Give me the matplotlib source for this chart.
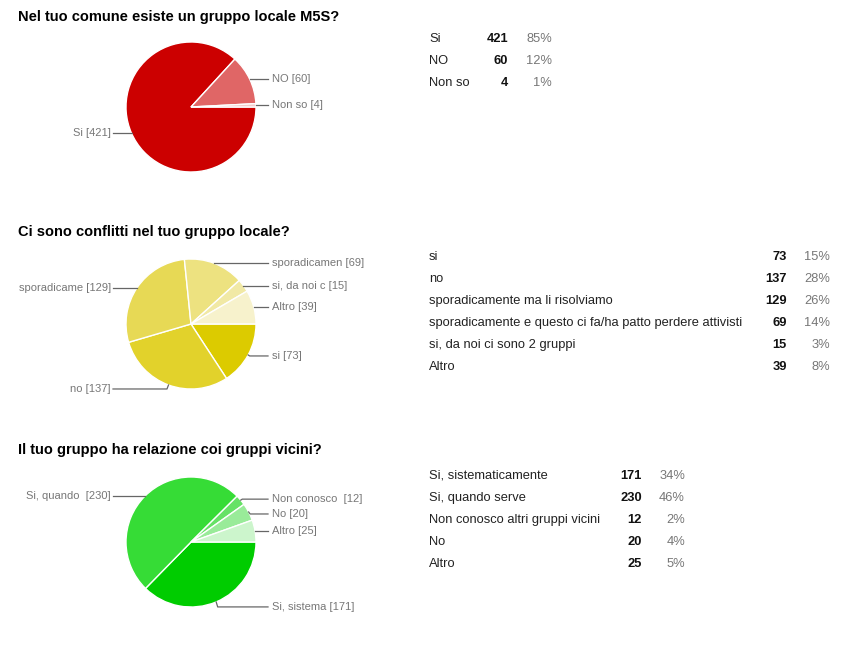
import numpy as np
import matplotlib
matplotlib.use("Agg")
import matplotlib.pyplot as plt

plt.rcParams['font.family'] = ['Liberation Sans', 'DejaVu Sans']

# --- data ---
titles = [
    "Nel tuo comune esiste un gruppo locale M5S?",
    "Ci sono conflitti nel tuo gruppo locale?",
    "Il tuo gruppo ha relazione coi gruppi vicini?",
]

q1_labels = ["Si", "NO", "Non so"]
q1_short = ["Si", "NO", "Non so"]
q1_values = [421, 60, 4]
q1_pct = ["85%", "12%", "1%"]

q2_labels = ["si", "no", "sporadicamente ma li risolviamo",
             "sporadicamente e questo ci fa/ha patto perdere attivisti",
             "si, da noi ci sono 2 gruppi", "Altro"]
q2_short = ["si", "no", "sporadicame", "sporadicamen", "si, da noi c", "Altro"]
q2_values = [73, 137, 129, 69, 15, 39]
q2_pct = ["15%", "28%", "26%", "14%", "3%", "8%"]

q3_labels = ["Si, sistematicamente", "Si, quando serve",
             "Non conosco altri gruppi vicini", "No", "Altro"]
q3_short = ["Si, sistema", "Si, quando ", "Non conosco ", "No", "Altro"]
q3_values = [171, 230, 12, 20, 25]
q3_pct = ["34%", "46%", "2%", "4%", "5%"]

q1_colors = ["#cc0000", "#e06666", "#f4cccc"]
q2_colors = ["#dccb00", "#e2d22b", "#e7d955", "#ede280", "#f1e9a5", "#f7f2cc"]
q3_colors = ["#00cc00", "#36dc36", "#66e266", "#99eb99", "#ccf5cc"]

# small vertical nudges of the slice labels (pixels)
q1_nudge = [0, 0, 0]
q2_nudge = [1, 4, 0, 0, 0, 0]
q3_nudge = [5, 0, -1, 2, 0]

# layout (pixels)
W, H = 853, 645
pie_cx = 191
pie_cy = [107, 324, 542]
pie_r = 65
title_y = [17, 232, 450]
table_y0 = [39, 257, 476]
table_num_x = [508, 787, 642]
table_pct_x = [552, 830, 685]
row_h = 22

fig = plt.figure(figsize=(W / 100, H / 100), dpi=100)
ax = fig.add_axes([0, 0, 1, 1])

blocks = [
    (q1_labels, q1_short, q1_values, q1_pct, q1_colors, q1_nudge),
    (q2_labels, q2_short, q2_values, q2_pct, q2_colors, q2_nudge),
    (q3_labels, q3_short, q3_values, q3_pct, q3_colors, q3_nudge),
]

for i, (labels, short, values, pct, colors, nudge) in enumerate(blocks):
    cy = pie_cy[i]
    # title
    ax.text(18, title_y[i], titles[i], fontsize=10.5, fontweight='bold',
            color='#000000', ha='left', va='center')

    # pie (y axis points down, so counterclock in data = clockwise on screen)
    wedges, _ = ax.pie(values, colors=colors, center=(pie_cx, cy),
                       radius=pie_r, startangle=0, counterclock=True,
                       wedgeprops=dict(edgecolor='white', linewidth=1.0))

    # slice labels with leader lines
    for w, s, v, dy in zip(wedges, short, values, nudge):
        mid = np.radians((w.theta1 + w.theta2) / 2)
        ex = pie_cx + pie_r * np.cos(mid)
        ey = cy + pie_r * np.sin(mid)
        ly = ey + dy
        if np.cos(mid) >= 0:
            ax.plot([ex, ex + 1.5, pie_cx + 77], [ey, ly, ly],
                    color='#666666', lw=0.9)
            ax.text(pie_cx + 81, ly, "%s [%d]" % (s, v), fontsize=8,
                    color='#777777', ha='left', va='center')
        else:
            ax.plot([ex, ex - 1.5, pie_cx - 78], [ey, ly, ly],
                    color='#666666', lw=0.9)
            ax.text(pie_cx - 80, ly, "%s [%d]" % (s, v), fontsize=8,
                    color='#777777', ha='right', va='center')

    # summary table
    for j, (lab, v, p) in enumerate(zip(labels, values, pct)):
        y = table_y0[i] + j * row_h
        ax.text(429, y, lab, fontsize=9.3, color='#222222', ha='left', va='center')
        ax.text(table_num_x[i], y, str(v), fontsize=9.3, fontweight='bold',
                color='#111111', ha='right', va='center')
        ax.text(table_pct_x[i], y, p, fontsize=9.3, color='#777777',
                ha='right', va='center')

ax.set_xlim(0, W)
ax.set_ylim(H, 0)
ax.set_aspect('equal')
ax.axis('off')

fig.savefig("out.png", dpi=100, facecolor='white')
